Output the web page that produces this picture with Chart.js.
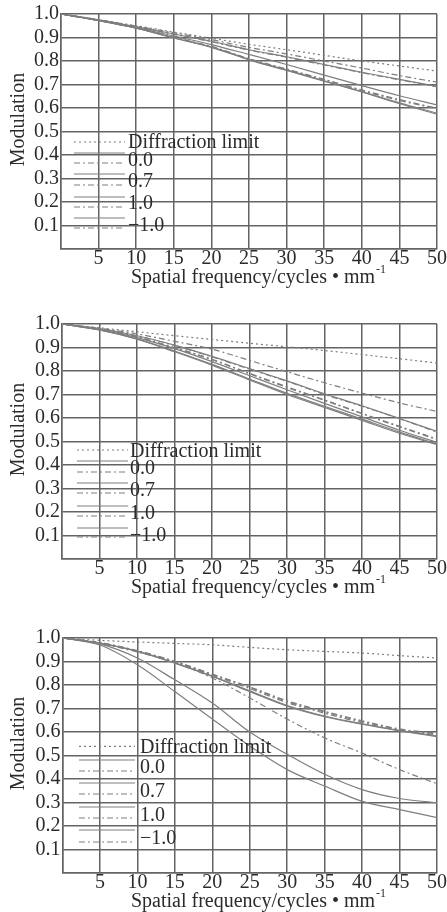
<!DOCTYPE html>
<html>
<head>
<meta charset="utf-8">
<script src="https://cdn.jsdelivr.net/npm/chart.js@4.4.1/dist/chart.umd.min.js"></script>
<style>
  html, body { margin: 0; padding: 0; background: #fff; overflow: hidden; }
  .box { position: absolute; left: 0; width: 447px; height: 289px; }
</style>
</head>
<body>
<div class="box" style="top:0px"><canvas id="mtf1" width="447" height="289"></canvas></div>
<div class="box" style="top:310px"><canvas id="mtf2" width="447" height="289"></canvas></div>
<div class="box" style="top:624px"><canvas id="mtf3" width="447" height="289"></canvas></div>
<script>
// frequences (cycles/mm) et graduations
const freq = [0, 5, 10, 15, 20, 25, 30, 35, 40, 45, 50];
const xTicks = [0, 5, 10, 15, 20, 25, 30, 35, 40, 45, 50];
const yTicks = [0, 0.1, 0.2, 0.3, 0.4, 0.5, 0.6, 0.7, 0.8, 0.9, 1.0];
const fieldLabels = ['0.0', '0.7', '1.0', '\u22121.0'];
const diffLabel = 'Diffraction limit';
const xTitle = 'Spatial frequency/cycles \u2022 mm';
const xTitleSup = '-1';
const yTitle = 'Modulation';

// graphique 1
const diff1 = [1.0, 0.975, 0.95, 0.923, 0.897, 0.871, 0.848, 0.824, 0.80, 0.779, 0.757];
const t00_1 = [1.0, 0.975, 0.946, 0.915, 0.884, 0.848, 0.818, 0.785, 0.752, 0.722, 0.692];
const s00_1 = [1.0, 0.975, 0.945, 0.913, 0.882, 0.846, 0.816, 0.783, 0.750, 0.720, 0.690];
const t07_1 = [1.0, 0.973, 0.943, 0.906, 0.870, 0.828, 0.785, 0.740, 0.695, 0.652, 0.613];
const s07_1 = [1.0, 0.976, 0.948, 0.920, 0.891, 0.858, 0.830, 0.800, 0.770, 0.738, 0.710];
const t10_1 = [1.0, 0.972, 0.940, 0.898, 0.858, 0.805, 0.760, 0.714, 0.668, 0.618, 0.574];
const s10_1 = [1.0, 0.972, 0.941, 0.900, 0.862, 0.810, 0.766, 0.722, 0.677, 0.636, 0.599];
const tm10_1 = [1.0, 0.972, 0.940, 0.899, 0.860, 0.807, 0.762, 0.716, 0.670, 0.622, 0.578];
const sm10_1 = [1.0, 0.972, 0.940, 0.900, 0.860, 0.808, 0.764, 0.720, 0.674, 0.632, 0.597];

// graphique 2
const diff2 = [1.0, 0.984, 0.967, 0.950, 0.934, 0.918, 0.903, 0.887, 0.870, 0.852, 0.834];
const t00_2 = [1.0, 0.980, 0.950, 0.910, 0.862, 0.810, 0.758, 0.703, 0.652, 0.598, 0.543];
const s00_2 = [1.0, 0.980, 0.950, 0.909, 0.860, 0.808, 0.756, 0.700, 0.650, 0.597, 0.540];
const t07_2 = [1.0, 0.976, 0.942, 0.895, 0.840, 0.780, 0.720, 0.662, 0.605, 0.548, 0.496];
const s07_2 = [1.0, 0.982, 0.958, 0.926, 0.893, 0.845, 0.797, 0.750, 0.706, 0.664, 0.628];
const t10_2 = [1.0, 0.975, 0.935, 0.882, 0.825, 0.762, 0.700, 0.645, 0.590, 0.535, 0.487];
const s10_2 = [1.0, 0.978, 0.945, 0.900, 0.850, 0.790, 0.733, 0.677, 0.620, 0.565, 0.511];
const tm10_2 = [1.0, 0.975, 0.937, 0.885, 0.828, 0.766, 0.705, 0.650, 0.595, 0.540, 0.490];
const sm10_2 = [1.0, 0.978, 0.944, 0.898, 0.848, 0.788, 0.730, 0.675, 0.618, 0.562, 0.508];

// graphique 3
const diff3 = [1.0, 0.990, 0.983, 0.977, 0.971, 0.960, 0.950, 0.943, 0.936, 0.925, 0.915];
const t00_3 = [1.0, 0.978, 0.943, 0.893, 0.836, 0.772, 0.710, 0.665, 0.633, 0.605, 0.580];
const s00_3 = [1.0, 0.980, 0.945, 0.900, 0.845, 0.790, 0.730, 0.685, 0.645, 0.610, 0.592];
const t07_3 = [1.0, 0.975, 0.915, 0.822, 0.723, 0.600, 0.505, 0.420, 0.355, 0.317, 0.299];
const s07_3 = [1.0, 0.977, 0.940, 0.895, 0.830, 0.745, 0.655, 0.575, 0.510, 0.440, 0.380];
const t10_3 = [1.0, 0.970, 0.886, 0.772, 0.655, 0.540, 0.440, 0.370, 0.305, 0.270, 0.236];
const s10_3 = [1.0, 0.980, 0.944, 0.898, 0.842, 0.785, 0.725, 0.680, 0.640, 0.607, 0.588];
const tm10_3 = [1.0, 0.978, 0.944, 0.894, 0.838, 0.775, 0.713, 0.668, 0.635, 0.607, 0.583];
const sm10_3 = [1.0, 0.980, 0.946, 0.901, 0.846, 0.792, 0.733, 0.688, 0.648, 0.613, 0.595];

const SERIF = "'Liberation Serif', 'DejaVu Serif', serif";
const GRID = '#646464';
const INK = '#2b2b2b';
const CURVE = '#7e7e7e';
const DOT = [2, 3];
const DASHDOT = [6, 3, 2, 3];

function curve(label, values, dash) {
  return {
    label: label,
    data: freq.map((f, i) => ({ x: f, y: values[i] })),
    borderColor: CURVE,
    borderWidth: 1.2,
    borderDash: dash,
    pointRadius: 0,
    fill: false,
    cubicInterpolationMode: 'monotone'
  };
}

// legende + titres d'axes dessines a la main
const mtfLegend = {
  id: 'mtfLegend',
  afterDatasetsDraw(chart, args, opts) {
    const ctx = chart.ctx;
    const area = chart.chartArea;
    const top = area.top;
    ctx.save();
    chart.data.datasets.forEach((ds, i) => {
      const y = top + opts.rows[i];
      ctx.strokeStyle = ds.borderColor;
      ctx.lineWidth = ds.borderWidth;
      ctx.setLineDash(ds.borderDash || []);
      ctx.beginPath();
      ctx.moveTo(opts.x0, y);
      ctx.lineTo(opts.x1, y);
      ctx.stroke();
    });
    ctx.setLineDash([]);
    ctx.fillStyle = INK;
    ctx.font = '20px ' + SERIF;
    ctx.textBaseline = 'middle';
    const texts = [diffLabel].concat(fieldLabels);
    texts.forEach((t, i) => ctx.fillText(t, opts.tx, top + opts.texts[i] + 1));

    // titre axe x avec exposant
    const w1 = ctx.measureText(xTitle).width;
    ctx.font = '12px ' + SERIF;
    const w2 = ctx.measureText(xTitleSup).width;
    const x0 = 258 - (w1 + w2) / 2;
    const ty = area.bottom + 29;
    ctx.font = '20px ' + SERIF;
    ctx.fillText(xTitle, x0, ty);
    ctx.font = '12px ' + SERIF;
    ctx.fillText(xTitleSup, x0 + w1 + 1, ty - 8);

    // titre axe y
    ctx.font = '20px ' + SERIF;
    ctx.translate(18.5, (area.top + area.bottom) / 2 - 12);
    ctx.rotate(-Math.PI / 2);
    ctx.textAlign = 'center';
    ctx.fillText(yTitle, 0, 0);
    ctx.restore();
  }
};

function mtfChart(id, sets, leftW, legend) {
  new Chart(document.getElementById(id), {
    type: 'line',
    data: {
      datasets: [
        curve(diffLabel, sets[0], DOT),
        curve('0.0 T', sets[1], []),
        curve('0.0 S', sets[2], DASHDOT),
        curve('0.7 T', sets[3], []),
        curve('0.7 S', sets[4], DASHDOT),
        curve('1.0 T', sets[5], []),
        curve('1.0 S', sets[6], DASHDOT),
        curve('-1.0 T', sets[7], []),
        curve('-1.0 S', sets[8], DASHDOT)
      ]
    },
    options: {
      responsive: false,
      animation: false,
      layout: { padding: { top: 14, right: 10, left: 0, bottom: 0 } },
      plugins: {
        legend: { display: false },
        tooltip: { enabled: false },
        mtfLegend: legend
      },
      scales: {
        x: {
          type: 'linear',
          min: 0,
          max: 50,
          afterBuildTicks: s => { s.ticks = xTicks.map(v => ({ value: v })); },
          afterFit: s => { s.height = 40; s.paddingLeft = 0; s.paddingRight = 0; },
          ticks: {
            padding: -2,
            color: INK,
            font: { family: SERIF, size: 20 },
            maxRotation: 0,
            autoSkip: false,
            callback: v => (v === 0 ? '' : String(v))
          },
          grid: { color: GRID, lineWidth: 1.5, drawTicks: false },
          border: { color: GRID, width: 1.5 }
        },
        y: {
          min: 0,
          max: 1,
          afterBuildTicks: s => { s.ticks = yTicks.map(v => ({ value: v })); },
          afterFit: s => { s.width = leftW; s.paddingTop = 0; s.paddingBottom = 0; },
          ticks: {
            padding: 2,
            color: INK,
            autoSkip: false,
            font: { family: SERIF, size: 20 },
            callback: v => (v === 0 ? '' : v.toFixed(1))
          },
          grid: { color: GRID, lineWidth: 1.5, drawTicks: false },
          border: { color: GRID, width: 1.5 }
        }
      }
    },
    plugins: [mtfLegend]
  });
}

mtfChart('mtf1', [diff1, t00_1, s00_1, t07_1, s07_1, t10_1, s10_1, tm10_1, sm10_1], 61, {
  x0: 74, x1: 125, tx: 128,
  rows: [128, 139, 149, 160, 171, 183, 193, 204, 214],
  texts: [127.5, 145.5, 167, 188.5, 211]
});
mtfChart('mtf2', [diff2, t00_2, s00_2, t07_2, s07_2, t10_2, s10_2, tm10_2, sm10_2], 62, {
  x0: 77, x1: 128, tx: 130,
  rows: [126, 137, 148, 159, 169, 182, 192, 204, 213],
  texts: [126.7, 143.7, 166, 188.3, 210.3]
});
mtfChart('mtf3', [diff3, t00_3, s00_3, t07_3, s07_3, t10_3, s10_3, tm10_3, sm10_3], 62.5, {
  x0: 79, x1: 135, tx: 140,
  rows: [108.4, 122, 133, 145, 156, 169, 180, 192, 204],
  texts: [108.4, 128.4, 152.4, 176.7, 200]
});
</script>
</body>
</html>
